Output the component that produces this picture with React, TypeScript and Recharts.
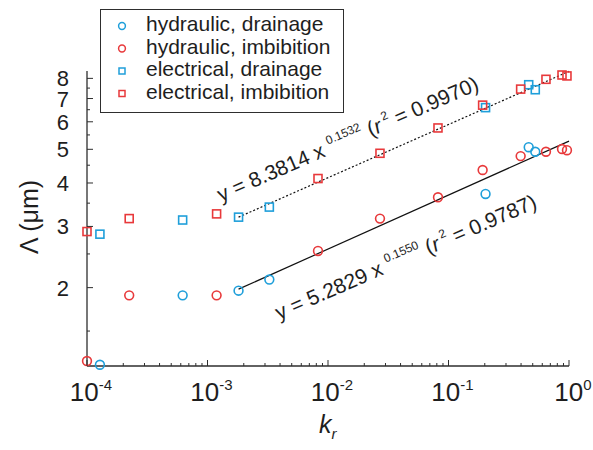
import { ScatterChart, Scatter, XAxis, YAxis, Legend } from 'recharts';

// k_r and Lambda (um)
const HYD_DRAIN_K = [1.28e-4, 6.22e-4, 1.81e-3, 3.26e-3, 0.203, 0.463, 0.525];
const HYD_DRAIN_L = [1.2, 1.9, 1.96, 2.11, 3.72, 5.07, 4.92];

const HYD_IMB_K = [1.0e-4, 2.24e-4, 1.19e-3, 8.26e-3, 0.027, 0.0818, 0.192, 0.397, 0.644, 0.875, 0.962];
const HYD_IMB_L = [1.23, 1.9, 1.9, 2.55, 3.16, 3.64, 4.36, 4.78, 4.92, 5.01, 4.97];

const ELEC_DRAIN_K = [1.28e-4, 6.22e-4, 1.81e-3, 3.26e-3, 0.203, 0.463, 0.525];
const ELEC_DRAIN_L = [2.85, 3.13, 3.19, 3.41, 6.59, 7.67, 7.42];

const ELEC_IMB_K = [1.0e-4, 2.24e-4, 1.19e-3, 8.26e-3, 0.027, 0.0818, 0.192, 0.397, 0.644, 0.875, 0.962];
const ELEC_IMB_L = [2.9, 3.16, 3.26, 4.12, 4.87, 5.76, 6.7, 7.45, 7.95, 8.18, 8.13];

// power-law fits, end points
const FIT_K = [1.81e-3, 1];
const FIT_HYD_L = [1.98, 5.28];
const FIT_ELEC_L = [3.19, 8.38];

const X_DECADES = [1e-4, 1e-3, 1e-2, 1e-1, 1];
const Y_TICKS = [1.5, 2, 2.5, 3, 3.5, 4, 4.5, 5, 5.5, 6, 6.5, 7, 7.5, 8];

const LEGEND_ITEMS = [
  { name: 'hydraulic, drainage', color: '#1f9fda', shape: 'circle' },
  { name: 'hydraulic, imbibition', color: '#e8393b', shape: 'circle' },
  { name: 'electrical, drainage', color: '#1f9fda', shape: 'square' },
  { name: 'electrical, imbibition', color: '#e8393b', shape: 'square' },
];

const BLUE = '#1f9fda';
const RED = '#e8393b';
const AXIS = '#2e2e2e';
const INK = '#1e1e1e';
const FONT = '"Liberation Sans", Arial, Helvetica, sans-serif';

const X_TICKS: number[] = [];
X_DECADES.forEach((d, i) => {
  X_TICKS.push(d);
  if (i < X_DECADES.length - 1) for (let m = 2; m <= 9; m++) X_TICKS.push(+(d * m).toPrecision(3));
});

const zip = (ks: number[], ls: number[]) => ks.map((k, i) => ({ k, lam: ls[i] }));

const isDecade = (v: number) => Math.abs(Math.log10(v) - Math.round(Math.log10(v))) < 1e-6;

function BottomTick({ x, y, payload }: any) {
  const v = payload.value;
  const major = isDecade(v);
  return (
    <g>
      <line x1={x} x2={x} y1={y} y2={y - (major ? 6 : 3)} stroke={AXIS} strokeWidth={1} />
      {major && (
        <text x={x + 4} y={y + 35} textAnchor="middle" fontSize={26} fill={INK} fontFamily={FONT}>
          10<tspan fontSize={15} dy={-11}>{Math.round(Math.log10(v))}</tspan>
        </text>
      )}
    </g>
  );
}

function TopTick({ x, y, payload }: any) {
  const major = isDecade(payload.value);
  return <line x1={x} x2={x} y1={y} y2={y + (major ? 6 : 3)} stroke={AXIS} strokeWidth={1} />;
}

function LeftTick({ x, y, payload }: any) {
  const v = payload.value;
  const major = Number.isInteger(v);
  return (
    <g>
      <line x1={x} x2={x + (major ? 6 : 3)} y1={y} y2={y} stroke={AXIS} strokeWidth={1} />
      {major && (
        <text x={x - 18} y={y + 8} textAnchor="end" fontSize={22} fill={INK} fontFamily={FONT}>
          {v}
        </text>
      )}
    </g>
  );
}

function RightTick({ x, y, payload }: any) {
  const major = Number.isInteger(payload.value);
  return <line x1={x} x2={x - (major ? 6 : 3)} y1={y} y2={y} stroke={AXIS} strokeWidth={1} />;
}

const circle = (color: string) => (p: any) => (
  <circle cx={p.cx} cy={p.cy} r={4.4} fill="none" stroke={color} strokeWidth={1.6} />
);
const square = (color: string) => (p: any) => (
  <rect x={p.cx - 4} y={p.cy - 4} width={8} height={8} fill="none" stroke={color} strokeWidth={1.6} />
);
const noShape = () => <g />;

function LegendBox() {
  return (
    <div style={{ width: 244, height: 104, boxSizing: 'border-box', border: `1.3px solid ${AXIS}`, background: '#fff' }}>
      <svg width={242} height={102} style={{ display: 'block' }}>
        {LEGEND_ITEMS.map((it, i) => {
          const base = 21 + i * 22.5;
          const cy = base - 5;
          return (
            <g key={it.name}>
              {it.shape === 'circle' ? (
                <circle cx={21} cy={cy} r={3.4} fill="none" stroke={it.color} strokeWidth={1.5} />
              ) : (
                <rect x={18} y={cy - 3} width={6} height={6} fill="none" stroke={it.color} strokeWidth={1.5} />
              )}
              <text x={45} y={base} fontSize={21} fill={INK} fontFamily={FONT}>
                {it.name}
              </text>
            </g>
          );
        })}
      </svg>
    </div>
  );
}

export default function App() {
  return (
    <div style={{ position: 'absolute', left: 0, top: 0, width: 593, height: 450, background: '#fff' }}>
      <ScatterChart width={593} height={450} margin={{ top: 71, right: 24, bottom: 0, left: 0 }}>
        <XAxis
          xAxisId="b"
          dataKey="k"
          type="number"
          scale="log"
          domain={[1e-4, 1]}
          ticks={X_TICKS}
          interval={0}
          tickSize={0}
          tickMargin={0}
          tickLine={false}
          tick={<BottomTick />}
          height={84}
          axisLine={{ stroke: AXIS, strokeWidth: 1.3 }}
        />
        <XAxis
          xAxisId="t"
          orientation="top"
          dataKey="k"
          type="number"
          scale="log"
          domain={[1e-4, 1]}
          ticks={X_TICKS}
          interval={0}
          tickSize={0}
          tickMargin={0}
          tickLine={false}
          tick={<TopTick />}
          height={0}
          axisLine={{ stroke: AXIS, strokeWidth: 1.3 }}
        />
        <YAxis
          yAxisId="l"
          dataKey="lam"
          type="number"
          scale="log"
          domain={[1.19, 8.4]}
          ticks={Y_TICKS}
          interval={0}
          tickSize={0}
          tickMargin={0}
          tickLine={false}
          tick={<LeftTick />}
          width={87}
          axisLine={{ stroke: AXIS, strokeWidth: 1.3 }}
        />
        <YAxis
          yAxisId="r"
          orientation="right"
          dataKey="lam"
          type="number"
          scale="log"
          domain={[1.19, 8.4]}
          ticks={Y_TICKS}
          interval={0}
          tickSize={0}
          tickMargin={0}
          tickLine={false}
          tick={<RightTick />}
          width={0}
          axisLine={{ stroke: AXIS, strokeWidth: 1.3 }}
        />
        <Scatter
          xAxisId="t"
          yAxisId="r"
          data={zip(FIT_K, FIT_ELEC_L)}
          line={{ stroke: '#111', strokeWidth: 1.2, strokeDasharray: '2 2' }}
          shape={noShape}
          legendType="none"
          isAnimationActive={false}
        />
        <Scatter
          xAxisId="t"
          yAxisId="r"
          data={zip(FIT_K, FIT_HYD_L)}
          line={{ stroke: '#111', strokeWidth: 1.2 }}
          shape={noShape}
          legendType="none"
          isAnimationActive={false}
        />
        <Scatter xAxisId="b" yAxisId="l" name="hydraulic, drainage" data={zip(HYD_DRAIN_K, HYD_DRAIN_L)} shape={circle(BLUE)} isAnimationActive={false} />
        <Scatter xAxisId="b" yAxisId="l" name="hydraulic, imbibition" data={zip(HYD_IMB_K, HYD_IMB_L)} shape={circle(RED)} isAnimationActive={false} />
        <Scatter xAxisId="b" yAxisId="l" name="electrical, drainage" data={zip(ELEC_DRAIN_K, ELEC_DRAIN_L)} shape={square(BLUE)} isAnimationActive={false} />
        <Scatter xAxisId="b" yAxisId="l" name="electrical, imbibition" data={zip(ELEC_IMB_K, ELEC_IMB_L)} shape={square(RED)} isAnimationActive={false} />
        <Legend
          layout="vertical"
          align="center"
          verticalAlign="middle"
          wrapperStyle={{ position: 'absolute', left: 100, top: 9, width: 244, height: 104 }}
          content={() => <LegendBox />}
        />
      </ScatterChart>
      <svg width={593} height={450} style={{ position: 'absolute', left: 0, top: 0, pointerEvents: 'none' }} fontFamily={FONT} fill={INK}>
        <text transform="translate(38,217) rotate(-90)" textAnchor="middle" fontSize={25}>
          Λ (μm)
        </text>
        <text x={319} y={433} fontSize={25} fontStyle="italic">
          k<tspan fontSize={15} dy={6}>r</tspan>
        </text>
        <text transform="translate(221,202) rotate(-23.5)" fontSize={21}>
          y = 8.3814 x <tspan fontSize={12} dy={-10}>0.1532</tspan>
          <tspan dy={10}> (</tspan>
          <tspan fontStyle="italic">r</tspan>
          <tspan fontSize={12} dy={-10}> 2</tspan>
          <tspan dy={10}> = 0.9970)</tspan>
        </text>
        <text transform="translate(279,320) rotate(-23.5)" fontSize={21}>
          y = 5.2829 x <tspan fontSize={12} dy={-10}>0.1550</tspan>
          <tspan dy={10}> (</tspan>
          <tspan fontStyle="italic">r</tspan>
          <tspan fontSize={12} dy={-10}> 2</tspan>
          <tspan dy={10}> = 0.9787)</tspan>
        </text>
      </svg>
    </div>
  );
}
